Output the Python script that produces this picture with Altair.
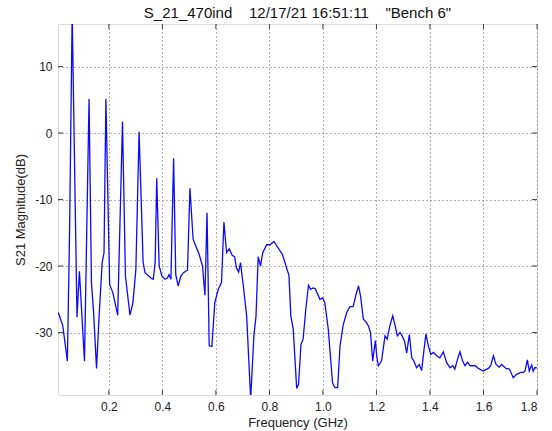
import altair as alt
import pandas as pd

freq = [0.011, 0.028, 0.045, 0.053, 0.063, 0.081, 0.090, 0.109, 0.126, 0.135,
        0.143, 0.154, 0.163, 0.175, 0.182, 0.189, 0.203, 0.215, 0.233, 0.251,
        0.262, 0.279, 0.290, 0.301, 0.313, 0.328, 0.335, 0.357, 0.366, 0.373,
        0.379, 0.388, 0.398, 0.410, 0.419, 0.425, 0.432, 0.442, 0.450, 0.459,
        0.469, 0.479, 0.494, 0.503, 0.515, 0.525, 0.538, 0.550, 0.559, 0.567,
        0.575, 0.585, 0.596, 0.609, 0.621, 0.630, 0.640, 0.650, 0.661, 0.670,
        0.677, 0.685, 0.692, 0.702, 0.715, 0.730, 0.742, 0.750, 0.758, 0.767,
        0.775, 0.790, 0.802, 0.817, 0.833, 0.849, 0.862, 0.873, 0.880, 0.889,
        0.902, 0.909, 0.918, 0.926, 0.936, 0.946, 0.954, 0.963, 0.971, 0.989,
        0.999, 1.007, 1.020, 1.036, 1.045, 1.055, 1.064, 1.076, 1.089, 1.101,
        1.113, 1.123, 1.133, 1.141, 1.151, 1.161, 1.171, 1.178, 1.186, 1.196,
        1.201, 1.207, 1.219, 1.232, 1.240, 1.250, 1.261, 1.270, 1.278, 1.288,
        1.296, 1.305, 1.313, 1.323, 1.332, 1.340, 1.350, 1.360, 1.369, 1.378,
        1.385, 1.394, 1.403, 1.413, 1.425, 1.437, 1.450, 1.462, 1.475, 1.485,
        1.493, 1.501, 1.512, 1.522, 1.531, 1.540, 1.550, 1.569, 1.581, 1.599,
        1.618, 1.627, 1.637, 1.647, 1.659, 1.668, 1.684, 1.697, 1.711, 1.724,
        1.739, 1.749, 1.755, 1.764, 1.771, 1.780, 1.786, 1.792, 1.799]

s21_db = [-27.0, -29.0, -34.3, -15.5, 18.0, -27.7, -20.8, -34.3, 5.1, -22.5,
          -27.0, -35.4, -28.0, -19.5, -18.0, 5.1, -22.8, -24.0, -27.4, 1.7,
          -21.5, -27.4, -25.5, -20.5, 0.2, -19.4, -21.0, -21.8, -22.0, -19.5,
          -6.8, -20.0, -21.5, -22.0, -21.8, -21.3, -22.0, -3.8, -21.3, -23.0,
          -21.5, -21.0, -20.6, -8.3, -16.0, -17.0, -18.3, -20.0, -24.4, -12.0,
          -32.0, -32.1, -25.5, -23.5, -22.5, -13.4, -18.0, -17.4, -18.4, -18.6,
          -20.3, -20.9, -19.5, -22.8, -27.5, -40.0, -30.5, -27.5, -18.6, -20.0,
          -18.0, -16.8, -16.8, -16.3, -17.3, -18.3, -20.0, -21.4, -27.5, -29.5,
          -38.4, -37.8, -31.8, -31.0, -26.5, -22.9, -23.5, -23.3, -23.4, -25.0,
          -24.8, -25.5, -29.5, -37.6, -38.3, -38.3, -32.0, -28.8, -27.0, -26.1,
          -26.1, -24.4, -23.0, -24.6, -28.0, -28.4, -29.1, -30.1, -34.3, -31.2,
          -33.5, -35.0, -34.3, -30.5, -31.0, -29.0, -27.5, -29.0, -30.5, -30.0,
          -30.5, -31.3, -33.1, -30.3, -33.8, -34.3, -35.3, -34.8, -35.7, -32.5,
          -30.2, -32.0, -33.3, -33.0, -33.5, -33.8, -32.9, -34.5, -35.3, -35.0,
          -35.5, -34.3, -32.9, -34.3, -35.0, -34.5, -35.0, -35.0, -35.4, -35.8,
          -35.4, -35.0, -33.5, -34.8, -35.2, -34.8, -35.4, -35.5, -36.8, -36.3,
          -36.0, -36.0, -35.8, -34.1, -35.8, -34.9, -35.8, -35.3, -35.3]

x_ticks = [0.2, 0.4, 0.6, 0.8, 1.0, 1.2, 1.4, 1.6, 1.8]
y_ticks = [-30, -20, -10, 0, 10]

X_DOMAIN = [0.01, 1.8]
Y_DOMAIN = [-39.4, 16.4]
W, H = 479, 371
FONT = "Liberation Sans"
SP = "\u00a0" * 4
TITLE = "S_21_470ind" + SP + "12/17/21 16:51:11" + SP + '"Bench 6"'

df = pd.DataFrame({"f": freq, "db": s21_db})
xt = pd.DataFrame({"t": x_ticks})
yt = pd.DataFrame({"t": y_ticks})

xs = alt.Scale(domain=X_DOMAIN, nice=False, zero=False)
ys = alt.Scale(domain=Y_DOMAIN, nice=False, zero=False)

common = dict(grid=True, gridDash=[1, 3], gridColor="#555", gridOpacity=0.9,
              tickSize=0, domain=False, labelFontSize=12, titleFontSize=13,
              labelFont=FONT, titleFont=FONT, labelColor="#222", titleColor="#222",
              titleFontWeight="normal")

line = alt.Chart(df).mark_line(color="#0a0aff", strokeWidth=1.3, clip=True).encode(
    x=alt.X("f:Q", scale=xs,
            axis=alt.Axis(values=x_ticks, format=".1f", title="Frequency (GHz)",
                          labelPadding=6, titlePadding=4, **common)),
    y=alt.Y("db:Q", scale=ys,
            axis=alt.Axis(values=y_ticks, labelExpr="'' + datum.value",
                          title="S21 Magnitude(dB)",
                          labelPadding=6, titlePadding=7, **common)),
)

tick_len = 5
xb = alt.Chart(xt).mark_rule(color="#444", strokeWidth=1).encode(
    x=alt.X("t:Q", scale=xs), y=alt.value(H), y2=alt.value(H - tick_len))
xtop = alt.Chart(xt).mark_rule(color="#444", strokeWidth=1).encode(
    x=alt.X("t:Q", scale=xs), y=alt.value(0), y2=alt.value(tick_len))
yl = alt.Chart(yt).mark_rule(color="#444", strokeWidth=1).encode(
    y=alt.Y("t:Q", scale=ys), x=alt.value(0), x2=alt.value(tick_len))
yr = alt.Chart(yt).mark_rule(color="#444", strokeWidth=1).encode(
    y=alt.Y("t:Q", scale=ys), x=alt.value(W), x2=alt.value(W - tick_len))

chart = alt.layer(line, xb, xtop, yl, yr).properties(
    width=W, height=H,
    title=alt.TitleParams(
        text=TITLE, font=FONT, fontSize=15, fontWeight="normal", color="#111",
        anchor="middle", offset=3),
    autosize=alt.AutoSizeParams(type="none"),
    padding={"left": 58, "top": 24, "right": 15, "bottom": 36},
).configure_view(stroke="#444", strokeWidth=1.2).configure(background="white")

chart.save("out.html", embed_options={"renderer": "svg", "actions": False})
